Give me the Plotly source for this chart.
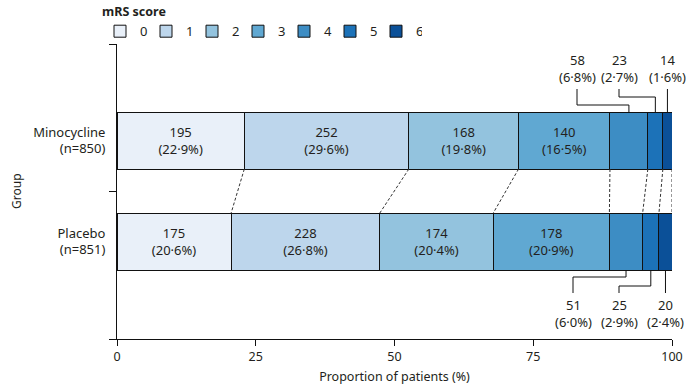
import plotly.graph_objects as go

# ---------------- data ----------------
groups = ["Minocycline", "Placebo"]
group_n = [850, 851]
scores = ["0", "1", "2", "3", "4", "5", "6"]
mino_counts = [195, 252, 168, 140, 58, 23, 14]
plac_counts = [175, 228, 174, 178, 51, 25, 20]
mino_pct = [22.9, 29.6, 19.8, 16.5, 6.8, 2.7, 1.6]
plac_pct = [20.6, 26.8, 20.4, 20.9, 6.0, 2.9, 2.4]
x_ticks = [0, 25, 50, 75, 100]

# ---------------- styles / layout ----------------
colors = ["#e9f0f9", "#bdd6ec", "#93c3de", "#60a8d2", "#3d8dc4", "#1c72b8", "#0b5098"]
FONT = "Noto Sans"
TXT = "#231f20"
W, H = 688, 387
M_L, M_R, M_T, M_B = 117, 16, 44, 48
plot_h = H - M_T - M_B          # px
Y_RANGE = [0, 2]
u = (Y_RANGE[1] - Y_RANGE[0]) / plot_h   # data units per px

def ypx(px):
    return Y_RANGE[1] - (px - M_T) * u

y_pos = [ypx(140.5), ypx(241.5)]   # Minocycline, Placebo bar centres
bar_w = 57 * u
inside_labels = 4                   # segments labelled inside the bar

def fmt(c, p):
    return f"{c}<br>({p:.1f}%)".replace(".", "\u00b7")

fig = go.Figure()
props = []
for g_counts, n in zip([mino_counts, plac_counts], group_n):
    props.append([c / n * 100 for c in g_counts])

for k, s in enumerate(scores):
    texts = []
    for counts, pct in [(mino_counts, mino_pct), (plac_counts, plac_pct)]:
        texts.append(fmt(counts[k], pct[k]) if k < inside_labels else "")
    fig.add_trace(go.Bar(
        name=s,
        orientation="h",
        y=y_pos,
        x=[props[0][k], props[1][k]],
        width=bar_w,
        marker=dict(color=colors[k], line=dict(color="#111", width=1)),
        text=texts,
        textposition="inside",
        insidetextanchor="middle",
        textangle=0,
        textfont=dict(family=FONT, size=13, color=TXT),
        hoverinfo="skip",
    ))

shapes = []
# dashed connectors between cumulative boundaries
cum_m, cum_p = 0, 0
cums_m, cums_p = [], []
for k in range(len(scores)):
    cum_m += props[0][k]
    cum_p += props[1][k]
    cums_m.append(cum_m)
    cums_p.append(cum_p)
for a, b in zip(cums_m, cums_p):
    shapes.append(dict(type="line", xref="x", yref="y",
                       x0=a, y0=y_pos[0] - bar_w / 2, x1=b, y1=y_pos[1] + bar_w / 2,
                       line=dict(color="#333", width=1, dash="3px,2px")))

# callouts for small segments
mids_m = [cums_m[k] - props[0][k] / 2 for k in range(len(scores))]
mids_p = [cums_p[k] - props[1][k] / 2 for k in range(len(scores))]
px_per_x = (W - M_L - M_R) / 100
mino_label_x = [(577 - M_L) / px_per_x, (619 - M_L) / px_per_x, mids_m[6]]
plac_label_x = [(573 - M_L) / px_per_x, (619 - M_L) / px_per_x, mids_p[6]]
mino_elbow = [7, 15, None]
plac_elbow = [7, 16, None]
callout_len = 23

annotations = []
top_m = y_pos[0] + bar_w / 2
bot_p = y_pos[1] - bar_w / 2
for j, k in enumerate([4, 5, 6]):
    # minocycline (above)
    lx = mino_label_x[j]
    y_end = top_m + callout_len * u
    if mino_elbow[j] is None:
        path = f"M{mids_m[k]},{top_m} L{mids_m[k]},{y_end}"
    else:
        ye = top_m + mino_elbow[j] * u
        path = f"M{mids_m[k]},{top_m} L{mids_m[k]},{ye} L{lx},{ye} L{lx},{y_end}"
    shapes.append(dict(type="path", xref="x", yref="y", path=path,
                       line=dict(color="#111", width=1)))
    annotations.append(dict(x=lx, y=y_end, xref="x", yref="y", showarrow=False,
                            text=fmt(mino_counts[k], mino_pct[k]), yanchor="bottom",
                            yshift=1, font=dict(family=FONT, size=13, color=TXT)))
    # placebo (below)
    lx = plac_label_x[j]
    y_end = bot_p - callout_len * u
    if plac_elbow[j] is None:
        path = f"M{mids_p[k]},{bot_p} L{mids_p[k]},{y_end}"
    else:
        ye = bot_p - plac_elbow[j] * u
        path = f"M{mids_p[k]},{bot_p} L{mids_p[k]},{ye} L{lx},{ye} L{lx},{y_end}"
    shapes.append(dict(type="path", xref="x", yref="y", path=path,
                       line=dict(color="#111", width=1)))
    annotations.append(dict(x=lx, y=y_end, xref="x", yref="y", showarrow=False,
                            text=fmt(plac_counts[k], plac_pct[k]), yanchor="top",
                            yshift=-1, font=dict(family=FONT, size=13, color=TXT)))

annotations.append(dict(x=0, y=0.5, xref="paper", yref="paper", xshift=-111,
                        showarrow=False, text="Group", textangle=-90,
                        font=dict(family=FONT, size=12, color=TXT)))

fig.update_layout(
    width=W, height=H,
    margin=dict(l=M_L, r=M_R, t=M_T, b=M_B, autoexpand=False),
    barmode="stack",
    plot_bgcolor="white", paper_bgcolor="white",
    font=dict(family=FONT, size=13, color=TXT),
    shapes=shapes,
    annotations=annotations,
    showlegend=True,
    legend=dict(
        orientation="h", x=100 / W, xref="container", xanchor="left",
        y=1, yref="container", yanchor="top",
        title=dict(text="<b>mRS score</b>", side="top", font=dict(family=FONT, size=12.5, color=TXT)),
        font=dict(family=FONT, size=13, color=TXT),
        traceorder="normal",
        entrywidth=1, entrywidthmode="pixels",
        bgcolor="rgba(0,0,0,0)",
    ),
    xaxis=dict(
        range=[0, 100], tickvals=x_ticks, ticks="outside", ticklen=6,
        tickcolor="#111", showline=True, linecolor="#111", linewidth=1,
        showgrid=False, zeroline=False,
        title=dict(text="Proportion of patients (%)", standoff=8,
                   font=dict(family=FONT, size=12.5, color=TXT)),
        tickfont=dict(family=FONT, size=12.5, color=TXT),
    ),
    yaxis=dict(
        range=Y_RANGE, tickvals=y_pos,
        ticktext=[f"{g}<br>(n={n})" for g, n in zip(groups, group_n)],
        ticks="", showline=True, linecolor="#111", linewidth=1,
        showgrid=False, zeroline=False, ticklabelstandoff=8,
        tickfont=dict(family=FONT, size=13, color=TXT),
        minor=dict(tickvals=[0, 1, 2], ticks="outside", ticklen=7, tickcolor="#111", showgrid=False),
    ),
)

fig.write_html("out.html", config={"displayModeBar": False},
               post_script="document.body.style.margin='0';")
